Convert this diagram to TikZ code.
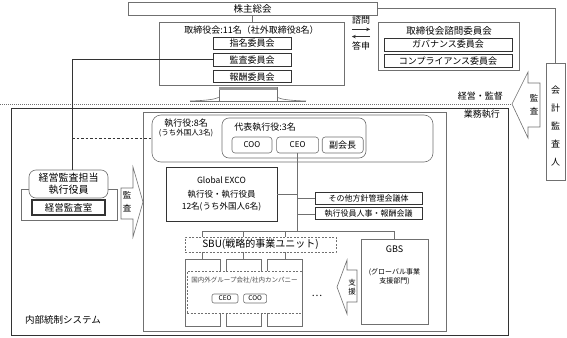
\documentclass[tikz,border=0pt]{standalone}
\usepackage{fontspec}
\setmainfont{Noto Sans CJK JP}
\usepackage{xcolor}
\usepackage{tikz}
\usetikzlibrary{positioning,arrows.meta,calc}
\definecolor{grline}{HTML}{707070}
\definecolor{dark}{HTML}{333333}
\newcommand{\jfs}[2]{\fontsize{#1}{#2}\selectfont}

\begin{document}
\begin{tikzpicture}[x=1pt,y=-1pt,
  box/.style={draw=grline,line width=0.6pt,fill=white,inner sep=0pt,
              align=center,font={\jfs{9}{11}}},
  rbox/.style={box,rounded corners=4pt},
  dbox/.style={box,dash pattern=on 2pt off 1.5pt},
  cbox/.style={box,draw=dark,line width=0.8pt},
  lbl/.style={inner sep=0pt,align=center,font={\jfs{9}{11}}},
  conn/.style={draw=grline,line width=0.6pt},
  fatarrow/.style={draw=grline,line width=0.6pt,fill=white},
  arr/.style={-{Stealth[length=4pt,width=3.5pt]},dark,line width=0.7pt}]
\useasboundingbox (0,0) rectangle (567,337);

\node[box,minimum width=249,minimum height=13,font={\jfs{9.5}{11}}] (kabu) at (252.5,8.5) {株主総会};
\node[box,minimum width=185,minimum height=63] (board) at (251.5,53.5) {};
\node[lbl] (boardt) at (251.5,30) {取締役会:11名（社外取締役8名）};
\node[cbox,minimum width=78,minimum height=12] (shimei) at (252,43) {指名委員会};
\node[cbox,minimum width=78,minimum height=13,below=3.5pt of shimei] (kansa) {監査委員会};
\node[cbox,minimum width=78,minimum height=12,below=3.5pt of kansa] (hoshu) {報酬委員会};
\node[box,minimum width=58,minimum height=14] (stand) at (248,94) {};
\fill[gray!80] (stand.north west) rectangle ([yshift=-3pt]stand.north east);
\draw[conn] (190,101) .. controls (208,100.5) and (216,99) .. ([yshift=4pt]stand.south west);
\draw[conn] (306,101) .. controls (288,100.5) and (280,99) .. ([yshift=4pt]stand.south east);
\draw[conn] (190,101) -- (306,101);

\node[box,minimum width=141,minimum height=48] (advisory) at (448.5,46) {};
\node[lbl,font={\jfs{9.5}{11}}] (advt) at (449,31) {取締役会諮問委員会};
\node[cbox,minimum width=128,minimum height=13] (gov) at (448,44.5) {ガバナンス委員会};
\node[cbox,minimum width=128,minimum height=13,below=3pt of gov] (comp) {コンプライアンス委員会};
\node[lbl] (shimon) at (361,20) {諮問};
\node[lbl] (toshin) at (361,46) {答申};
\draw[arr] ([yshift=-5pt]shimon.south west) -- ([yshift=-5pt]shimon.south east);
\draw[arr] ([yshift=5pt]toshin.north east) -- ([yshift=5pt]toshin.north west);

\node[box,minimum width=19,minimum height=117] (kaikei) at (555.5,121.5) {};
\node[lbl,font={\jfs{9}{18.2}}] (kaikeit) at (555.5,126) {会\\計\\監\\査\\人};
\draw[conn] (kabu.east) -| (kaikei.north);
\draw[conn] (kabu.south) -- (kabu.south |- board.north);

\node[box,draw=dark,line width=0.9pt,minimum width=497,minimum height=227] (frame) at (259.5,221.5) {};
\node[lbl,font={\jfs{9.5}{11}},anchor=west] (framet) at (25,320) {内部統制システム};
\coordinate (sepl) at (0,104);
\coordinate (sepr) at (512,104);
\draw[conn,dash pattern=on 1pt off 1pt] (sepl) -- (sepr);
\node[lbl,anchor=east] (keiei) at (503,96) {経営・監督};
\node[lbl,anchor=east] (gyomu) at (500,114) {業務執行};
\draw[fatarrow] (sepr) -- (528,72) -- (528,83) -- (540,83) -- (540,127) -- (528,127) -- (528,138) -- cycle;
\node[lbl,font={\jfs{8.5}{13}}] (kansa2) at (534,105) {監\\査};

\node[box,minimum width=303,minimum height=219] (exec) at (294.5,221.5) {};
\node[rbox,rounded corners=9pt,minimum width=281,minimum height=47] (shikko) at (292.5,138.5) {};
\node[lbl] (shikkot) at (186,123) {執行役:8名};
\node[lbl,font={\jfs{7.5}{9}},below=2pt of shikkot] (shikkos) {(うち外国人3名)};
\node[rbox,rounded corners=7pt,minimum width=144,minimum height=40] (daihyo) at (294,138) {};
\node[lbl] (daihyot) at (265,127) {代表執行役:3名};
\node[rbox,rounded corners=3pt,minimum width=40,minimum height=16,font={\jfs{8}{9}}] (coo) at (252,145) {COO};
\node[rbox,rounded corners=3pt,minimum width=42,minimum height=16,font={\jfs{8}{9}},right=4pt of coo] (ceo) {CEO};
\node[rbox,rounded corners=3pt,minimum width=41,minimum height=16,right=3pt of ceo] (vice) {副会長};

\node[cbox,line width=0.7pt,minimum width=111,minimum height=54,font={\jfs{8.5}{12.5}}] (exco) at (221.5,194)
  {Global EXCO\\[1pt]執行役・執行役員\\12名(うち外国人6名)};
\node[cbox,minimum width=107,minimum height=12,font={\jfs{8}{9}}] (sonota) at (368.5,198) {その他方針管理会議体};
\node[cbox,minimum width=107,minimum height=12,font={\jfs{8}{9}},below=3pt of sonota] (jinji) {執行役員人事・報酬会議};
\coordinate (hub) at (ceo.south |- 0,231);
\draw[conn] (ceo.south) -- (hub);
\draw[conn] (exco.east) -- (exco.east -| hub);
\draw[conn] (sonota.west -| hub) -- (sonota.west);
\draw[conn] (jinji.west -| hub) -- (jinji.west);

\node[dbox,minimum width=151,minimum height=15,font={\jfs{10}{11}}] (sbu) at (260.5,244.5) {SBU(戦略的事業ユニット)};
\foreach \n/\x in {1/202.5,2/243.5,3/285}
  \node[box,minimum width=35,minimum height=67] (col\n) at (\x,292.5) {};
\node[dbox,minimum width=115,minimum height=42] (grp) at (244.5,292) {};
\node[lbl,font={\jfs{6.5}{7}},text=black!70] (grpt) at (244.5,280) {国内外グループ会社/社内カンパニー};
\node[rbox,rounded corners=2pt,minimum width=26,minimum height=9,font={\jfs{6.5}{7}}] (gceo) at (225,298.5) {CEO};
\node[rbox,rounded corners=2pt,minimum width=23,minimum height=9,font={\jfs{6.5}{7}},right=5pt of gceo] (gcoo) {COO};
\node[lbl,font={\jfs{10}{11}}] (dots) at (317,296) {…};

\node[box,minimum width=67,minimum height=85] (gbs) at (394.5,281.5) {};
\node[lbl] (gbst) at (394.5,249) {GBS};
\node[lbl,font={\jfs{7}{9}}] (gbss) at (394.5,276.5) {(グローバル事業\\支援部門)};
\coordinate (bus) at (col1.north |- 0,231);
\draw[conn] (bus) -| (gbs.north);
\foreach \n in {1,2,3} {
  \draw[conn] (bus -| col\n.north) -- (sbu.north -| col\n.north);
  \draw[conn] (sbu.south -| col\n.north) -- (col\n.north);
}
\draw[fatarrow] (337,287) -- (347,260) -- (347,270) -- (357,270) -- (357,302) -- (347,302) -- (347,314) -- cycle;
\node[lbl,font={\jfs{7.5}{9}}] (shien) at (352,287) {支\\援};

\node[box,minimum width=96,minimum height=31] (auditbase) at (69,204.5) {};
\node[rbox,rounded corners=7pt,minimum width=79,minimum height=28,font={\jfs{10}{12.5}}] (auditexec) at (68.5,184) {経営監査担当\\執行役員};
\node[box,draw=dark,line width=1.1pt,minimum width=73,minimum height=15,font={\jfs{9.5}{11}}] (auditroom) at (68.5,207.5) {経営監査室};
\draw[fatarrow] (121,188) -- (133,188) -- (133,167) -- (143,202) -- (133,237) -- (133,219) -- (121,219) -- cycle;
\node[lbl,font={\jfs{8.5}{13}}] (kansa3) at (127,202) {監\\査};
\coordinate (auditdrop) at ([xshift=3.5pt]auditexec.north);
\draw[conn,draw=dark] (kansa.west) -| (auditdrop);
\draw[conn,draw=dark,dash pattern=on 2.5pt off 2pt] (shikko.west -| auditdrop) -- (shikko.west);
\end{tikzpicture}
\end{document}
